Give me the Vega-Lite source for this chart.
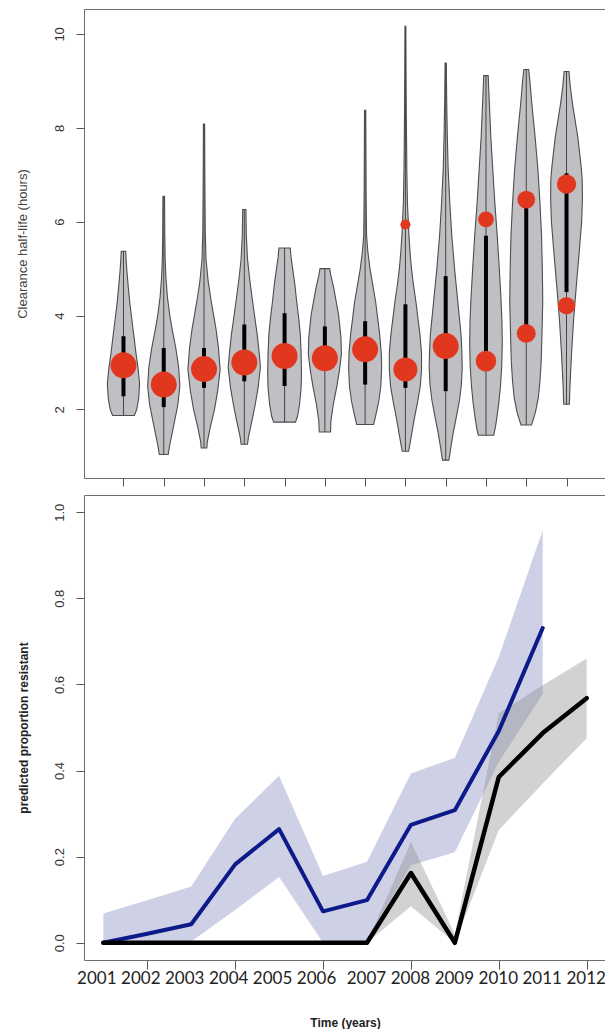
{
  "$schema": "https://vega.github.io/schema/vega-lite/v6.json",
  "background": "white",
  "padding": {"left": 15, "top": 8, "right": 0, "bottom": 0},
  "spacing": 17,
  "bounds": "flush",
  "config": {
    "view": {"stroke": "#6e6e6e", "strokeWidth": 1},
    "axis": {"tickColor": "#555", "labelFont": "Liberation Sans", "titleFont": "Liberation Sans", "grid": false, "domain": false}
  },
  "datasets": {
    "violin": [
      {"year": 2001, "v": 1.87, "w": 0.27}, {"year": 2001, "v": 2.0, "w": 0.33}, {"year": 2001, "v": 2.25, "w": 0.38}, {"year": 2001, "v": 2.55, "w": 0.4}, {"year": 2001, "v": 2.9, "w": 0.36}, {"year": 2001, "v": 3.2, "w": 0.31}, {"year": 2001, "v": 3.55, "w": 0.26}, {"year": 2001, "v": 3.9, "w": 0.21}, {"year": 2001, "v": 4.25, "w": 0.16}, {"year": 2001, "v": 4.6, "w": 0.12}, {"year": 2001, "v": 4.95, "w": 0.085}, {"year": 2001, "v": 5.2, "w": 0.065}, {"year": 2001, "v": 5.37, "w": 0.055},
      {"year": 2002, "v": 1.04, "w": 0.11}, {"year": 2002, "v": 1.2, "w": 0.14}, {"year": 2002, "v": 1.5, "w": 0.21}, {"year": 2002, "v": 1.8, "w": 0.28}, {"year": 2002, "v": 2.1, "w": 0.35}, {"year": 2002, "v": 2.5, "w": 0.4}, {"year": 2002, "v": 2.9, "w": 0.37}, {"year": 2002, "v": 3.3, "w": 0.3}, {"year": 2002, "v": 3.7, "w": 0.21}, {"year": 2002, "v": 4.0, "w": 0.15}, {"year": 2002, "v": 4.4, "w": 0.09}, {"year": 2002, "v": 4.8, "w": 0.055}, {"year": 2002, "v": 5.2, "w": 0.035}, {"year": 2002, "v": 5.8, "w": 0.025}, {"year": 2002, "v": 6.54, "w": 0.02},
      {"year": 2003, "v": 1.18, "w": 0.07}, {"year": 2003, "v": 1.3, "w": 0.08}, {"year": 2003, "v": 1.6, "w": 0.15}, {"year": 2003, "v": 2.0, "w": 0.26}, {"year": 2003, "v": 2.4, "w": 0.34}, {"year": 2003, "v": 2.85, "w": 0.4}, {"year": 2003, "v": 3.3, "w": 0.36}, {"year": 2003, "v": 3.7, "w": 0.3}, {"year": 2003, "v": 4.0, "w": 0.24}, {"year": 2003, "v": 4.4, "w": 0.16}, {"year": 2003, "v": 4.75, "w": 0.1}, {"year": 2003, "v": 5.2, "w": 0.05}, {"year": 2003, "v": 5.8, "w": 0.03}, {"year": 2003, "v": 7.0, "w": 0.02}, {"year": 2003, "v": 8.08, "w": 0.015},
      {"year": 2004, "v": 1.26, "w": 0.08}, {"year": 2004, "v": 1.4, "w": 0.1}, {"year": 2004, "v": 1.8, "w": 0.2}, {"year": 2004, "v": 2.1, "w": 0.27}, {"year": 2004, "v": 2.45, "w": 0.34}, {"year": 2004, "v": 2.9, "w": 0.4}, {"year": 2004, "v": 3.2, "w": 0.37}, {"year": 2004, "v": 3.6, "w": 0.32}, {"year": 2004, "v": 3.9, "w": 0.27}, {"year": 2004, "v": 4.4, "w": 0.19}, {"year": 2004, "v": 4.8, "w": 0.13}, {"year": 2004, "v": 5.2, "w": 0.08}, {"year": 2004, "v": 5.7, "w": 0.05}, {"year": 2004, "v": 6.26, "w": 0.04},
      {"year": 2005, "v": 1.73, "w": 0.27}, {"year": 2005, "v": 1.85, "w": 0.32}, {"year": 2005, "v": 2.1, "w": 0.37}, {"year": 2005, "v": 2.45, "w": 0.41}, {"year": 2005, "v": 2.8, "w": 0.42}, {"year": 2005, "v": 3.2, "w": 0.41}, {"year": 2005, "v": 3.6, "w": 0.39}, {"year": 2005, "v": 3.95, "w": 0.35}, {"year": 2005, "v": 4.3, "w": 0.3}, {"year": 2005, "v": 4.7, "w": 0.25}, {"year": 2005, "v": 5.0, "w": 0.2}, {"year": 2005, "v": 5.25, "w": 0.16}, {"year": 2005, "v": 5.44, "w": 0.14},
      {"year": 2006, "v": 1.52, "w": 0.14}, {"year": 2006, "v": 1.75, "w": 0.15}, {"year": 2006, "v": 2.11, "w": 0.21}, {"year": 2006, "v": 2.46, "w": 0.29}, {"year": 2006, "v": 2.82, "w": 0.36}, {"year": 2006, "v": 3.17, "w": 0.41}, {"year": 2006, "v": 3.53, "w": 0.4}, {"year": 2006, "v": 4.02, "w": 0.34}, {"year": 2006, "v": 4.59, "w": 0.22}, {"year": 2006, "v": 4.85, "w": 0.15}, {"year": 2006, "v": 5.0, "w": 0.12},
      {"year": 2007, "v": 1.68, "w": 0.21}, {"year": 2007, "v": 1.82, "w": 0.25}, {"year": 2007, "v": 2.18, "w": 0.34}, {"year": 2007, "v": 2.5, "w": 0.39}, {"year": 2007, "v": 2.89, "w": 0.41}, {"year": 2007, "v": 3.2, "w": 0.4}, {"year": 2007, "v": 3.6, "w": 0.36}, {"year": 2007, "v": 3.95, "w": 0.31}, {"year": 2007, "v": 4.3, "w": 0.26}, {"year": 2007, "v": 4.65, "w": 0.19}, {"year": 2007, "v": 5.0, "w": 0.12}, {"year": 2007, "v": 5.37, "w": 0.066}, {"year": 2007, "v": 5.72, "w": 0.035}, {"year": 2007, "v": 6.5, "w": 0.025}, {"year": 2007, "v": 7.5, "w": 0.02}, {"year": 2007, "v": 8.37, "w": 0.015},
      {"year": 2008, "v": 1.11, "w": 0.08}, {"year": 2008, "v": 1.4, "w": 0.14}, {"year": 2008, "v": 1.8, "w": 0.22}, {"year": 2008, "v": 2.15, "w": 0.3}, {"year": 2008, "v": 2.5, "w": 0.37}, {"year": 2008, "v": 2.85, "w": 0.4}, {"year": 2008, "v": 3.2, "w": 0.4}, {"year": 2008, "v": 3.6, "w": 0.36}, {"year": 2008, "v": 3.95, "w": 0.31}, {"year": 2008, "v": 4.3, "w": 0.26}, {"year": 2008, "v": 4.65, "w": 0.2}, {"year": 2008, "v": 5.0, "w": 0.15}, {"year": 2008, "v": 5.4, "w": 0.11}, {"year": 2008, "v": 5.75, "w": 0.085}, {"year": 2008, "v": 6.4, "w": 0.05}, {"year": 2008, "v": 7.1, "w": 0.035}, {"year": 2008, "v": 8.5, "w": 0.02}, {"year": 2008, "v": 10.16, "w": 0.01},
      {"year": 2009, "v": 0.92, "w": 0.08}, {"year": 2009, "v": 1.2, "w": 0.13}, {"year": 2009, "v": 1.47, "w": 0.18}, {"year": 2009, "v": 1.82, "w": 0.26}, {"year": 2009, "v": 2.18, "w": 0.34}, {"year": 2009, "v": 2.53, "w": 0.39}, {"year": 2009, "v": 2.89, "w": 0.41}, {"year": 2009, "v": 3.25, "w": 0.4}, {"year": 2009, "v": 3.6, "w": 0.38}, {"year": 2009, "v": 4.3, "w": 0.3}, {"year": 2009, "v": 5.0, "w": 0.22}, {"year": 2009, "v": 5.72, "w": 0.15}, {"year": 2009, "v": 6.43, "w": 0.1}, {"year": 2009, "v": 7.14, "w": 0.06}, {"year": 2009, "v": 7.85, "w": 0.04}, {"year": 2009, "v": 8.56, "w": 0.025}, {"year": 2009, "v": 9.38, "w": 0.015},
      {"year": 2010, "v": 1.45, "w": 0.19}, {"year": 2010, "v": 1.6, "w": 0.23}, {"year": 2010, "v": 1.82, "w": 0.27}, {"year": 2010, "v": 2.15, "w": 0.32}, {"year": 2010, "v": 2.5, "w": 0.36}, {"year": 2010, "v": 2.9, "w": 0.39}, {"year": 2010, "v": 3.4, "w": 0.405}, {"year": 2010, "v": 3.9, "w": 0.395}, {"year": 2010, "v": 4.4, "w": 0.37}, {"year": 2010, "v": 5.0, "w": 0.33}, {"year": 2010, "v": 5.7, "w": 0.28}, {"year": 2010, "v": 6.4, "w": 0.22}, {"year": 2010, "v": 7.1, "w": 0.17}, {"year": 2010, "v": 7.8, "w": 0.12}, {"year": 2010, "v": 8.5, "w": 0.085}, {"year": 2010, "v": 8.9, "w": 0.065}, {"year": 2010, "v": 9.11, "w": 0.055},
      {"year": 2011, "v": 1.67, "w": 0.13}, {"year": 2011, "v": 1.8, "w": 0.18}, {"year": 2011, "v": 1.95, "w": 0.23}, {"year": 2011, "v": 2.25, "w": 0.3}, {"year": 2011, "v": 2.6, "w": 0.34}, {"year": 2011, "v": 3.0, "w": 0.37}, {"year": 2011, "v": 3.6, "w": 0.39}, {"year": 2011, "v": 4.3, "w": 0.41}, {"year": 2011, "v": 4.95, "w": 0.4}, {"year": 2011, "v": 5.7, "w": 0.38}, {"year": 2011, "v": 6.4, "w": 0.34}, {"year": 2011, "v": 7.1, "w": 0.29}, {"year": 2011, "v": 7.8, "w": 0.22}, {"year": 2011, "v": 8.5, "w": 0.14}, {"year": 2011, "v": 9.0, "w": 0.09}, {"year": 2011, "v": 9.24, "w": 0.06},
      {"year": 2012, "v": 2.11, "w": 0.07}, {"year": 2012, "v": 2.5, "w": 0.085}, {"year": 2012, "v": 3.2, "w": 0.125}, {"year": 2012, "v": 3.9, "w": 0.175}, {"year": 2012, "v": 4.6, "w": 0.24}, {"year": 2012, "v": 5.3, "w": 0.31}, {"year": 2012, "v": 6.0, "w": 0.375}, {"year": 2012, "v": 6.5, "w": 0.395}, {"year": 2012, "v": 6.9, "w": 0.39}, {"year": 2012, "v": 7.2, "w": 0.36}, {"year": 2012, "v": 7.8, "w": 0.28}, {"year": 2012, "v": 8.5, "w": 0.15}, {"year": 2012, "v": 8.9, "w": 0.09}, {"year": 2012, "v": 9.2, "w": 0.06}
    ],
    "stats": [
      {"year": 2001, "min": 1.87, "max": 5.37, "q1": 2.28, "q3": 3.56},
      {"year": 2002, "min": 1.04, "max": 6.54, "q1": 2.05, "q3": 3.31},
      {"year": 2003, "min": 1.18, "max": 8.08, "q1": 2.46, "q3": 3.31},
      {"year": 2004, "min": 1.26, "max": 6.26, "q1": 2.6, "q3": 3.81},
      {"year": 2005, "min": 1.73, "max": 5.44, "q1": 2.5, "q3": 4.05},
      {"year": 2006, "min": 1.52, "max": 5.0, "q1": 2.85, "q3": 3.77},
      {"year": 2007, "min": 1.68, "max": 8.37, "q1": 2.53, "q3": 3.88},
      {"year": 2008, "min": 1.11, "max": 10.16, "q1": 2.46, "q3": 4.24},
      {"year": 2009, "min": 0.92, "max": 9.38, "q1": 2.39, "q3": 4.84},
      {"year": 2010, "min": 1.45, "max": 9.11, "q1": 3.03, "q3": 5.7},
      {"year": 2011, "min": 1.67, "max": 9.24, "q1": 3.6, "q3": 6.44},
      {"year": 2012, "min": 2.11, "max": 9.2, "q1": 4.5, "q3": 7.03}
    ],
    "dots": [
      {"year": 2001, "v": 2.94, "prop": 1},
      {"year": 2002, "v": 2.53, "prop": 1},
      {"year": 2003, "v": 2.86, "prop": 1},
      {"year": 2004, "v": 3.0, "prop": 1},
      {"year": 2005, "v": 3.14, "prop": 1},
      {"year": 2006, "v": 3.09, "prop": 1},
      {"year": 2007, "v": 3.28, "prop": 1},
      {"year": 2008, "v": 5.94, "prop": 0.15},
      {"year": 2008, "v": 2.85, "prop": 0.85},
      {"year": 2009, "v": 3.35, "prop": 1},
      {"year": 2010, "v": 6.05, "prop": 0.37},
      {"year": 2010, "v": 3.03, "prop": 0.63},
      {"year": 2011, "v": 6.47, "prop": 0.47},
      {"year": 2011, "v": 3.62, "prop": 0.53},
      {"year": 2012, "v": 6.8, "prop": 0.55},
      {"year": 2012, "v": 4.21, "prop": 0.45}
    ],
    "trend": [
      {"series": "blue", "year": 2001, "est": 0.0, "lo": 0.0, "hi": 0.068},
      {"series": "blue", "year": 2002, "est": 0.021, "lo": 0.0, "hi": 0.099},
      {"series": "blue", "year": 2003, "est": 0.043, "lo": 0.003, "hi": 0.131},
      {"series": "blue", "year": 2004, "est": 0.182, "lo": 0.076, "hi": 0.288},
      {"series": "blue", "year": 2005, "est": 0.264, "lo": 0.153, "hi": 0.388},
      {"series": "blue", "year": 2006, "est": 0.073, "lo": 0.0, "hi": 0.155},
      {"series": "blue", "year": 2007, "est": 0.099, "lo": 0.005, "hi": 0.188},
      {"series": "blue", "year": 2008, "est": 0.274, "lo": 0.18, "hi": 0.393},
      {"series": "blue", "year": 2009, "est": 0.308, "lo": 0.21, "hi": 0.43},
      {"series": "blue", "year": 2010, "est": 0.492, "lo": 0.42, "hi": 0.664},
      {"series": "blue", "year": 2011, "est": 0.731, "lo": 0.578, "hi": 0.958},
      {"series": "black", "year": 2001, "est": 0.0, "lo": 0.0, "hi": 0.0},
      {"series": "black", "year": 2002, "est": 0.0, "lo": 0.0, "hi": 0.0},
      {"series": "black", "year": 2003, "est": 0.0, "lo": 0.0, "hi": 0.0},
      {"series": "black", "year": 2004, "est": 0.0, "lo": 0.0, "hi": 0.0},
      {"series": "black", "year": 2005, "est": 0.0, "lo": 0.0, "hi": 0.0},
      {"series": "black", "year": 2006, "est": 0.0, "lo": 0.0, "hi": 0.0},
      {"series": "black", "year": 2007, "est": 0.0, "lo": 0.0, "hi": 0.0},
      {"series": "black", "year": 2008, "est": 0.162, "lo": 0.085, "hi": 0.234},
      {"series": "black", "year": 2009, "est": 0.0, "lo": 0.0, "hi": 0.02},
      {"series": "black", "year": 2010, "est": 0.385, "lo": 0.262, "hi": 0.533},
      {"series": "black", "year": 2011, "est": 0.487, "lo": 0.37, "hi": 0.598},
      {"series": "black", "year": 2012, "est": 0.568, "lo": 0.475, "hi": 0.66}
    ]
  },
  "vconcat": [
    {
      "width": 522,
      "height": 469,
      "layer": [
        {
          "data": {"name": "violin"},
          "transform": [
            {"calculate": "datum.year - datum.w", "as": "lo"},
            {"calculate": "datum.year + datum.w", "as": "hi"}
          ],
          "mark": {"type": "area", "orient": "horizontal", "fill": "#c0c0c4", "stroke": "#4d4d4d", "strokeWidth": 1.1},
          "encoding": {
            "y": {"field": "v", "type": "quantitative", "scale": {"domain": [0.54, 10.53], "nice": false, "zero": false},
              "axis": {"values": [2, 4, 6, 8, 10], "title": "Clearance half-life (hours)", "labelAngle": 270, "labelAlign": "center", "labelBaseline": "alphabetic", "labelPadding": 13, "tickSize": 8, "labelFontSize": 13, "labelColor": "#333", "titleFontSize": 13, "titleFontWeight": "normal", "titleColor": "#444", "titleAngle": 270, "titleX": -58, "titleBaseline": "alphabetic"}},
            "x": {"field": "lo", "type": "quantitative", "scale": {"domain": [2000.02, 2012.98], "nice": false, "zero": false},
              "axis": {"values": [2001, 2002, 2003, 2004, 2005, 2006, 2007, 2008, 2009, 2010, 2011, 2012], "labels": false, "title": null, "tickSize": 8}},
            "x2": {"field": "hi"},
            "detail": {"field": "year", "type": "nominal"}
          }
        },
        {
          "data": {"name": "stats"},
          "mark": {"type": "rule", "color": "#444", "strokeWidth": 1},
          "encoding": {
            "x": {"field": "year", "type": "quantitative"},
            "y": {"field": "min", "type": "quantitative"},
            "y2": {"field": "max"}
          }
        },
        {
          "data": {"name": "stats"},
          "mark": {"type": "rule", "color": "#000", "strokeWidth": 4},
          "encoding": {
            "x": {"field": "year", "type": "quantitative"},
            "y": {"field": "q1", "type": "quantitative"},
            "y2": {"field": "q3"}
          }
        },
        {
          "data": {"name": "dots"},
          "mark": {"type": "circle", "color": "#e2371f", "opacity": 1},
          "encoding": {
            "x": {"field": "year", "type": "quantitative"},
            "y": {"field": "v", "type": "quantitative"},
            "size": {"field": "prop", "type": "quantitative", "scale": {"domain": [0, 1], "range": [0, 676], "zero": true}, "legend": null}
          }
        }
      ]
    },
    {
      "width": 522,
      "height": 465,
      "data": {"name": "trend"},
      "encoding": {
        "x": {"field": "year", "type": "quantitative", "scale": {"domain": [2000.56, 2012.44], "nice": false, "zero": false},
          "axis": {"values": [2001, 2002, 2003, 2004, 2005, 2006, 2007, 2008, 2009, 2010, 2011, 2012], "format": "d", "title": "Time (years)", "labelFont": "Lato", "labelFontSize": 17, "labelColor": "#222", "labelPadding": 1, "tickSize": 9, "labelFlush": false, "labelOverlap": false,
            "tickOpacity": {"condition": {"test": "datum.value % 2 === 0", "value": 1}, "value": 0},
            "labelOffset": {"condition": {"test": "datum.value <= 2006", "value": -7}, "value": -1},
            "titleFontWeight": "bold", "titleFontSize": 12, "titleColor": "#222", "titleY": 66, "titleBaseline": "alphabetic"}}
      },
      "layer": [
        {
          "transform": [{"filter": "datum.series === 'blue'"}],
          "mark": {"type": "area", "color": "#8a90c4", "opacity": 0.42},
          "encoding": {
            "y": {"field": "lo", "type": "quantitative", "scale": {"domain": [-0.04, 1.04], "nice": false, "zero": false},
              "axis": {"values": [0, 0.2, 0.4, 0.6, 0.8, 1.0], "format": ".1f", "title": "predicted proportion resistant", "labelAngle": 270, "labelAlign": "center", "labelBaseline": "alphabetic", "labelPadding": 13, "tickSize": 8, "labelFontSize": 13, "labelColor": "#333", "titleFontSize": 12, "titleFontWeight": "bold", "titleColor": "#222", "titleAngle": 270, "titleX": -57, "titleBaseline": "alphabetic"}},
            "y2": {"field": "hi"}
          }
        },
        {
          "transform": [{"filter": "datum.series === 'black'"}],
          "mark": {"type": "area", "color": "#8f8f8f", "opacity": 0.4},
          "encoding": {
            "y": {"field": "lo", "type": "quantitative"},
            "y2": {"field": "hi"}
          }
        },
        {
          "transform": [{"filter": "datum.series === 'blue'"}],
          "mark": {"type": "line", "color": "#0d1a8a", "strokeWidth": 4, "strokeJoin": "round", "strokeCap": "round"},
          "encoding": {
            "y": {"field": "est", "type": "quantitative"}
          }
        },
        {
          "transform": [{"filter": "datum.series === 'black'"}],
          "mark": {"type": "line", "color": "#000", "strokeWidth": 4.5, "strokeJoin": "round", "strokeCap": "round"},
          "encoding": {
            "y": {"field": "est", "type": "quantitative"}
          }
        }
      ]
    }
  ]
}
